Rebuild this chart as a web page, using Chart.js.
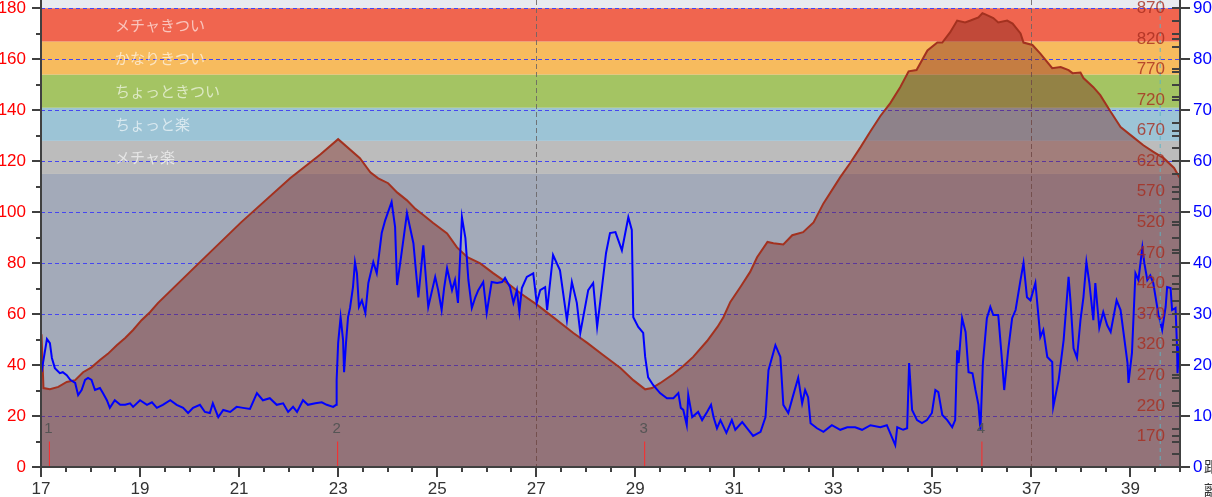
<!DOCTYPE html>
<html lang="ja">
<head>
<meta charset="UTF-8">
<title>標高とペース</title>
<script src="https://cdn.jsdelivr.net/npm/chart.js"></script>
<style>
  html, body { margin: 0; padding: 0; background: #fff; }
  canvas { display: block; }
</style>
</head>
<body>
<canvas id="chart" width="1212" height="497"></canvas>
<script>
// elevation profile (km, m)
const elevDist = [
  17.01, 17.05, 17.18, 17.35, 17.52, 17.69, 17.85, 18.02, 18.19, 18.35,
  18.53, 18.70, 18.86, 19.03, 19.20, 19.36, 20.21, 21.04, 22.03, 22.64,
  23.00, 23.44, 23.65, 23.81, 24.01, 24.19, 24.39, 24.56, 24.72, 24.92,
  25.20, 25.40, 25.61, 25.87, 26.13, 26.41, 26.68, 27.02, 27.34, 27.75,
  28.03, 28.35, 28.70, 28.96, 29.20, 29.34, 29.50, 29.77, 29.97, 30.17,
  30.45, 30.66, 30.78, 30.92, 31.12, 31.32, 31.46, 31.67, 31.79, 31.99,
  32.17, 32.39, 32.60, 32.80, 33.14, 33.34, 33.55, 33.75, 33.95, 34.15,
  34.35, 34.52, 34.68, 34.90, 35.10, 35.20, 35.36, 35.50, 35.66, 35.77,
  35.93, 36.01, 36.07, 36.23, 36.33, 36.51, 36.62, 36.78, 36.84, 37.02,
  37.18, 37.32, 37.42, 37.59, 37.75, 37.83, 37.99, 38.05, 38.25, 38.39,
  38.59, 38.80, 39.06, 39.26, 39.47, 39.67, 39.88, 40.00
];
const elevation = [
  337, 249, 247, 251, 259, 262, 275, 283, 295, 305,
  319, 331, 344, 360, 373, 388, 455, 520, 592, 631,
  656, 625, 602, 592, 584, 569, 556, 542, 532, 519,
  502, 479, 463, 453, 437, 421, 404, 385, 365, 339,
  323, 303, 282, 262, 247, 249, 257, 272, 285, 300,
  326, 349, 365, 390, 414, 439, 463, 488, 486, 484,
  499, 504, 520, 551, 594, 617, 643, 669, 694, 715,
  741, 767, 769, 801, 814, 814, 831, 850, 847, 850,
  855, 862, 860, 854, 847, 850, 845, 829, 814, 810,
  796, 782, 772, 774, 769, 764, 765, 756, 741, 728,
  702, 676, 659, 646, 635, 625, 609, 592
];

// blue line (km, right axis value)
const trackDist = [
  17.01, 17.12, 17.18, 17.22, 17.28, 17.38, 17.44, 17.52, 17.59, 17.69,
  17.75, 17.82, 17.89, 17.95, 18.02, 18.09, 18.19, 18.25, 18.33, 18.39,
  18.49, 18.60, 18.70, 18.80, 18.86, 19.00, 19.14, 19.24, 19.34, 19.46,
  19.61, 19.74, 19.87, 19.97, 20.07, 20.21, 20.31, 20.41, 20.47, 20.58,
  20.68, 20.82, 20.95, 21.08, 21.22, 21.36, 21.48, 21.62, 21.76, 21.89,
  21.99, 22.09, 22.17, 22.29, 22.39, 22.54, 22.67, 22.77, 22.90, 22.96,
  22.97, 23.00, 23.05, 23.10, 23.12, 23.16, 23.20, 23.24, 23.30, 23.34,
  23.38, 23.42, 23.48, 23.55, 23.61, 23.71, 23.78, 23.88, 23.95, 24.08,
  24.15, 24.19, 24.27, 24.39, 24.52, 24.62, 24.72, 24.76, 24.82, 24.96,
  25.02, 25.09, 25.14, 25.20, 25.30, 25.36, 25.42, 25.50, 25.57, 25.63,
  25.70, 25.77, 25.83, 25.93, 26.00, 26.10, 26.21, 26.31, 26.37, 26.47,
  26.54, 26.61, 26.66, 26.71, 26.81, 26.94, 27.01, 27.08, 27.18, 27.22,
  27.34, 27.48, 27.62, 27.72, 27.82, 27.89, 28.05, 28.15, 28.23, 28.29,
  28.41, 28.49, 28.60, 28.73, 28.86, 28.93, 28.96, 29.06, 29.16, 29.20,
  29.26, 29.36, 29.50, 29.64, 29.77, 29.87, 29.92, 29.97, 30.04, 30.07,
  30.15, 30.27, 30.35, 30.45, 30.53, 30.58, 30.65, 30.72, 30.84, 30.95,
  31.02, 31.16, 31.26, 31.38, 31.53, 31.63, 31.69, 31.83, 31.93, 31.99,
  32.09, 32.19, 32.29, 32.37, 32.43, 32.49, 32.54, 32.67, 32.80, 32.97,
  33.14, 33.28, 33.44, 33.58, 33.75, 33.95, 34.08, 34.25, 34.29, 34.41,
  34.49, 34.53, 34.59, 34.69, 34.79, 34.89, 34.99, 35.06, 35.12, 35.20,
  35.30, 35.40, 35.46, 35.50, 35.53, 35.60, 35.67, 35.73, 35.81, 35.87,
  35.93, 35.97, 36.02, 36.10, 36.17, 36.23, 36.33, 36.41, 36.45, 36.53,
  36.61, 36.68, 36.78, 36.84, 36.91, 36.98, 37.08, 37.18, 37.24, 37.32,
  37.42, 37.44, 37.55, 37.65, 37.75, 37.79, 37.85, 37.92, 37.99, 38.05,
  38.11, 38.17, 38.25, 38.29, 38.37, 38.45, 38.53, 38.60, 38.72, 38.80,
  38.94, 38.96, 39.03, 39.10, 39.16, 39.24, 39.28, 39.34, 39.40, 39.46,
  39.56, 39.64, 39.71, 39.74, 39.81, 39.84, 39.91, 39.94, 39.95, 39.99
];
const trackValue = [
  18.6, 25.1, 24.3, 21.4, 19.4, 18.4, 18.6, 18.0, 17.1, 16.5,
  14.1, 15.1, 17.1, 17.5, 17.1, 15.1, 15.5, 14.5, 13.1, 11.6,
  13.1, 12.2, 12.2, 12.5, 11.8, 13.1, 12.2, 12.7, 11.6, 12.2,
  13.1, 12.2, 11.6, 10.6, 11.6, 12.2, 10.8, 10.6, 12.5, 9.8,
  11.2, 10.8, 11.8, 11.6, 11.4, 14.5, 13.1, 13.5, 12.2, 12.5,
  10.8, 11.8, 10.8, 13.1, 12.2, 12.5, 12.7, 12.2, 11.8, 12.2,
  17.1, 24.3, 29.4, 24.9, 18.6, 24.5, 29.4, 31.2, 35.3, 40.2,
  38.0, 31.4, 32.7, 30.2, 36.1, 40.2, 38.0, 45.9, 48.4, 52.0,
  47.1, 35.7, 41.2, 49.8, 43.9, 33.3, 43.5, 38.6, 31.4, 37.3,
  34.7, 30.8, 35.1, 39.0, 34.7, 36.7, 32.2, 49.0, 44.9, 36.7,
  31.2, 33.3, 34.7, 36.3, 30.2, 36.3, 36.1, 36.3, 37.1, 35.3,
  32.2, 34.7, 30.4, 35.1, 37.3, 38.0, 32.2, 34.7, 35.3, 30.8,
  41.6, 38.6, 28.8, 36.3, 32.2, 26.3, 34.7, 36.1, 27.5, 32.2,
  42.0, 45.9, 46.1, 42.5, 49.0, 46.5, 29.4, 27.5, 26.3, 21.6,
  17.6, 16.1, 14.5, 13.5, 13.5, 14.5, 11.6, 11.2, 8.2, 14.1,
  9.8, 10.8, 9.2, 10.8, 12.2, 9.8, 7.6, 9.2, 6.7, 9.2,
  7.3, 8.8, 7.6, 6.1, 6.9, 9.8, 19.0, 23.9, 21.6, 12.2,
  10.6, 14.1, 17.5, 12.5, 15.1, 13.7, 8.6, 7.6, 6.9, 8.2,
  7.3, 7.8, 7.8, 7.3, 8.2, 7.8, 8.2, 4.3, 7.8, 7.3,
  7.6, 20.4, 11.2, 9.2, 8.6, 9.2, 10.6, 15.1, 14.7, 10.2,
  9.2, 7.8, 9.2, 22.9, 20.4, 29.2, 26.5, 18.6, 18.4, 15.1,
  12.2, 7.3, 20.4, 29.2, 31.4, 29.8, 29.8, 20.4, 15.1, 22.9,
  29.2, 30.8, 36.7, 40.0, 33.3, 32.7, 36.1, 25.5, 26.9, 21.6,
  20.6, 11.8, 17.1, 24.9, 37.3, 32.4, 23.3, 21.4, 28.8, 33.3,
  40.2, 36.1, 28.8, 36.1, 27.3, 30.4, 27.8, 26.5, 32.7, 30.8,
  20.4, 16.5, 22.4, 38.0, 36.7, 43.1, 40.0, 36.7, 37.6, 36.1,
  30.2, 26.9, 31.4, 35.3, 35.1, 30.8, 31.2, 23.5, 18.4, 23.9
];

// effort zones on the left axis
const zoneNames = ['メチャ楽', 'ちょっと楽', 'ちょっときつい', 'かなりきつい', 'メチャきつい'];
const zoneFrom = [115, 128, 141, 154, 167];
const zoneTo = [128, 141, 154, 167, 180];
const zoneColors = ['#bcbcbc', '#9cc4d6', '#a4c463', '#f7bb5e', '#f0654f'];

// lap markers
const lapDist = [17.17, 22.99, 29.19, 36.0];
const lapNames = ['1', '2', '3', '4'];

// ticks / guides
const distTicks = [17, 19, 21, 23, 25, 27, 29, 31, 33, 35, 37, 39];
const leftTicks = [0, 20, 40, 60, 80, 100, 120, 140, 160, 180];
const rightTicks = [0, 10, 20, 30, 40, 50, 60, 70, 80, 90];
const elevTicks = [170, 220, 270, 320, 370, 420, 470, 520, 570, 620, 670, 720, 770, 820, 870];
const gridDist = [27, 37];
const cursorDist = 39.59;

Chart.defaults.font.family = '"Liberation Sans", Arial, sans-serif';
Chart.defaults.font.size = 17;

function stepTicks(lo, hi, step) {
  const t = [];
  for (let v = lo; v <= hi + 1e-9; v += step) t.push({ value: Math.round(v * 100) / 100 });
  return t;
}

const lapData = [];
lapDist.forEach(d => {
  lapData.push({ x: d, y: 0 }, { x: d, y: 10 }, { x: d, y: null });
});

const AXIS = '#404040';

const decor = {
  id: 'decor',
  beforeDraw(chart) {
    const { ctx, chartArea: a, scales } = chart;
    const y = scales.y;
    ctx.save();
    ctx.fillStyle = '#e8ebf0';
    ctx.fillRect(a.left, a.top, a.right - a.left, a.bottom - a.top);
    ctx.fillStyle = '#a3aab9';
    ctx.fillRect(a.left, y.getPixelForValue(zoneFrom[0]), a.right - a.left, a.bottom - y.getPixelForValue(zoneFrom[0]));
    zoneNames.forEach((n, i) => {
      const t = y.getPixelForValue(zoneTo[i]);
      const b = y.getPixelForValue(zoneFrom[i]);
      ctx.fillStyle = zoneColors[i];
      ctx.fillRect(a.left, t, a.right - a.left, b - t);
    });
    ctx.restore();
  },
  beforeDatasetsDraw(chart) {
    const { ctx, scales } = chart;
    const y = scales.y;
    ctx.save();
    ctx.font = '15px "Noto Sans CJK JP", sans-serif';
    ctx.fillStyle = 'rgba(255,255,255,0.62)';
    ctx.textBaseline = 'middle';
    ctx.textAlign = 'left';
    zoneNames.forEach((n, i) => {
      ctx.fillText(n, 115, y.getPixelForValue((zoneFrom[i] + zoneTo[i]) / 2));
    });
    ctx.restore();
  },
  afterDatasetsDraw(chart) {
    const { ctx, chartArea: a, scales } = chart;
    const cx = scales.x.getPixelForValue(cursorDist);
    ctx.save();
    ctx.strokeStyle = 'rgba(90,180,195,0.9)';
    ctx.lineWidth = 1;
    ctx.setLineDash([4, 4]);
    ctx.beginPath();
    ctx.moveTo(cx + 0.5, a.top);
    ctx.lineTo(cx + 0.5, a.bottom);
    ctx.stroke();
    ctx.restore();
  },
  afterDraw(chart) {
    const { ctx, chartArea: a, scales } = chart;
    const x = scales.x, y = scales.y, y2 = scales.y2, el = scales.elev;
    ctx.save();
    ctx.strokeStyle = AXIS;
    ctx.lineWidth = 2;
    ctx.beginPath();
    // axis lines
    ctx.moveTo(a.left, a.top); ctx.lineTo(a.left, a.bottom + 1);
    ctx.moveTo(a.left - 1, a.bottom); ctx.lineTo(a.right + 1, a.bottom);
    ctx.moveTo(a.right, a.top); ctx.lineTo(a.right, a.bottom + 1);
    // left ticks
    for (let v = 0; v <= 180; v += 10) {
      const py = Math.round(y.getPixelForValue(v));
      const len = v % 20 === 0 ? 9 : 5;
      ctx.moveTo(a.left - len, py); ctx.lineTo(a.left, py);
    }
    // bottom ticks
    for (let v = 17; v <= 40; v += 0.5) {
      const px = Math.round(x.getPixelForValue(v));
      const len = distTicks.includes(v) ? 10 : 5;
      ctx.moveTo(px, a.bottom); ctx.lineTo(px, a.bottom + len);
    }
    // right ticks
    for (let v = 0; v <= 90; v += 2.5) {
      const py = Math.round(y2.getPixelForValue(v));
      if (v % 10 === 0) { ctx.moveTo(a.right, py); ctx.lineTo(a.right + 10, py); }
      else { ctx.moveTo(a.right - 8, py); ctx.lineTo(a.right, py); }
    }
    elevTicks.forEach(v => {
      const py = Math.round(el.getPixelForValue(v));
      ctx.moveTo(a.right - 8, py); ctx.lineTo(a.right, py);
    });
    ctx.stroke();

    // elevation labels inside the plot
    ctx.font = '17px "Liberation Sans", Arial, sans-serif';
    ctx.fillStyle = 'rgba(168,44,30,0.8)';
    ctx.textAlign = 'right';
    ctx.textBaseline = 'middle';
    elevTicks.forEach(v => ctx.fillText(String(v), a.right - 15, el.getPixelForValue(v)));

    // lap numbers
    ctx.font = '15px "Liberation Sans", Arial, sans-serif';
    ctx.fillStyle = '#555';
    ctx.textAlign = 'center';
    lapDist.forEach((d, i) => ctx.fillText(lapNames[i], x.getPixelForValue(d) - 1, y.getPixelForValue(15)));

    // clipped axis title at the corner
    ctx.font = '15px "Noto Sans CJK JP", sans-serif';
    ctx.fillStyle = '#333';
    ctx.textAlign = 'left';
    ctx.fillText('距', 1204, 466);
    ctx.fillText('離', 1204, 490);
    ctx.restore();
  }
};

new Chart(document.getElementById('chart'), {
  type: 'line',
  data: {
    datasets: [
      {
        label: '標高',
        data: elevDist.map((d, i) => ({ x: d, y: elevation[i] })),
        yAxisID: 'elev',
        borderColor: '#a3311f',
        borderWidth: 2,
        backgroundColor: 'rgba(123,33,24,0.4)',
        fill: 'start',
        pointRadius: 0,
        tension: 0,
        order: 3
      },
      {
        label: 'ペース',
        data: trackDist.map((d, i) => ({ x: d, y: trackValue[i] })),
        yAxisID: 'y2',
        borderColor: '#0000ff',
        borderWidth: 2,
        fill: false,
        pointRadius: 0,
        tension: 0,
        order: 2
      },
      {
        label: 'ラップ',
        data: lapData,
        yAxisID: 'y',
        borderColor: '#ff2a2a',
        borderWidth: 1,
        fill: false,
        pointRadius: 0,
        spanGaps: false,
        order: 1
      }
    ]
  },
  options: {
    responsive: false,
    animation: false,
    events: [],
    layout: { padding: 0 },
    plugins: { legend: { display: false }, tooltip: { enabled: false } },
    scales: {
      x: {
        type: 'linear',
        min: 17,
        max: 40,
        afterBuildTicks: s => { s.ticks = stepTicks(17, 40, 0.5); },
        afterFit: s => { s.height = 30; s.paddingLeft = 0; s.paddingRight = 0; },
        ticks: {
          autoSkip: false,
          maxRotation: 0,
          padding: 12,
          color: '#333',
          font: { size: 17 },
          callback: v => (distTicks.includes(v) ? String(v) : '')
        },
        grid: {
          drawTicks: false,
          lineWidth: 1,
          color: c => (gridDist.includes(c.tick.value) ? 'rgba(105,100,100,0.85)' : 'rgba(0,0,0,0)')
        },
        border: { display: false, dash: [5, 3] }
      },
      y: {
        position: 'left',
        min: 0,
        max: 183.26,
        afterBuildTicks: s => { s.ticks = stepTicks(0, 180, 10); },
        afterFit: s => { s.width = 41; s.paddingTop = 0; s.paddingBottom = 0; },
        ticks: {
          autoSkip: false,
          padding: 15,
          color: '#ff0000',
          font: { size: 17 },
          callback: v => (leftTicks.includes(v) ? String(v) : '')
        },
        grid: {
          drawTicks: false,
          lineWidth: 1,
          color: c => (c.tick.value > 0 && leftTicks.includes(c.tick.value) ? '#4646f0' : 'rgba(0,0,0,0)')
        },
        border: { display: false, dash: [4, 3] }
      },
      y2: {
        position: 'right',
        min: 0,
        max: 91.63,
        afterBuildTicks: s => { s.ticks = rightTicks.map(v => ({ value: v })); },
        afterFit: s => { s.width = 32; s.paddingTop = 0; s.paddingBottom = 0; },
        ticks: {
          autoSkip: false,
          padding: 13,
          color: '#0000ff',
          font: { size: 17 }
        },
        grid: { display: false, drawTicks: false },
        border: { display: false }
      },
      elev: {
        display: false,
        min: 120,
        max: 883.6
      }
    }
  },
  plugins: [decor]
});
</script>
</body>
</html>
